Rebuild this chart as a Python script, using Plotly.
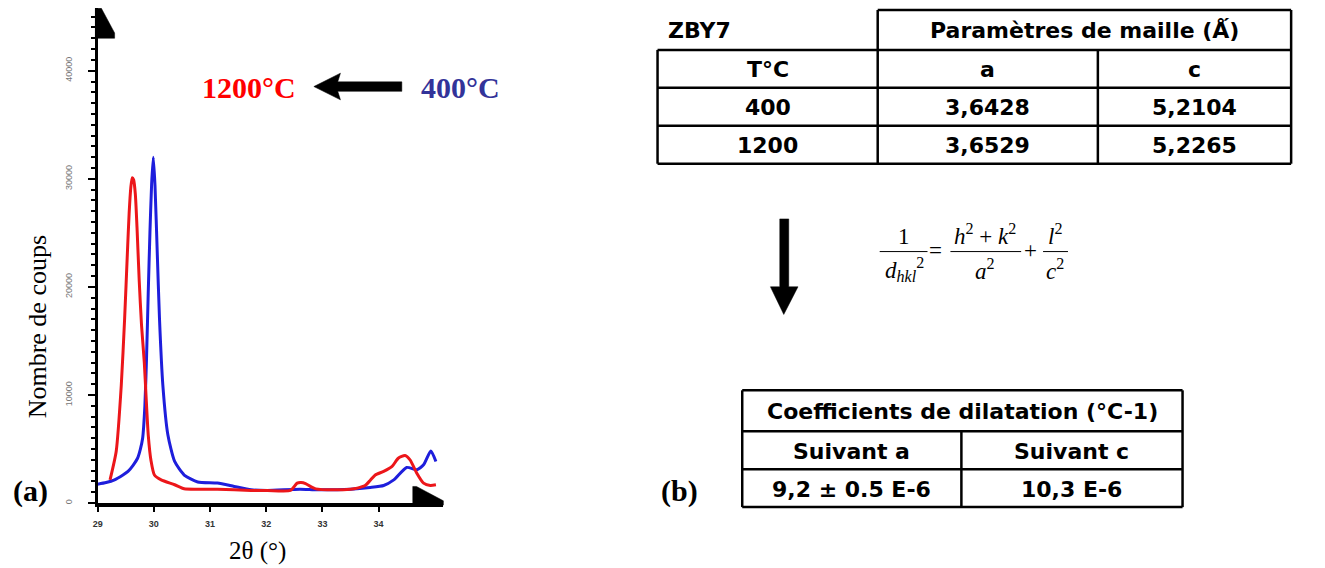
import plotly.graph_objects as go

# page is 1325x568; the HTML body keeps a default 8px margin
PAGE_W, PAGE_H = 1325, 568
OFF = 8
W, H = PAGE_W - OFF, PAGE_H - OFF

# ---------------- data ----------------
two_theta_1200 = [29.22, 29.33, 29.42, 29.48, 29.53, 29.56, 29.59, 29.615, 29.64, 29.67,
                  29.70, 29.74, 29.78, 29.83, 29.86, 29.90, 29.95, 30.01, 30.13, 30.37,
                  30.54, 30.90, 31.13, 31.73, 32.02, 32.43, 32.55, 32.62, 32.70, 32.80,
                  32.88, 33.20, 33.50, 33.62, 33.76, 33.85, 33.94, 34.09, 34.24, 34.35,
                  34.47, 34.56, 34.68, 34.80, 34.92, 35.02]
counts_1200 = [2150, 4800, 10900, 17100, 23300, 26800, 29200, 30100, 29900, 28600,
               25500, 20500, 16500, 13000, 10000, 6300, 3900, 2600, 2150, 1700,
               1320, 1290, 1290, 1170, 1170, 1170, 1850, 1900, 1800, 1500,
               1320, 1230, 1290, 1390, 1630, 2100, 2610, 2930, 3390, 4150,
               4400, 4000, 2770, 1850, 1630, 1690]

two_theta_400 = [29.00, 29.15, 29.30, 29.45, 29.54, 29.63, 29.71, 29.76, 29.80, 29.84,
                 29.87, 29.90, 29.93, 29.96, 29.99, 30.02, 30.06, 30.10, 30.16, 30.25,
                 30.37, 30.54, 30.78, 31.13, 31.43, 31.73, 32.02, 32.60, 32.91, 33.50,
                 33.85, 34.09, 34.27, 34.50, 34.68, 34.80, 34.93, 35.02]
counts_400 = [1750, 1900, 2150, 2600, 2930, 3500, 4150, 5000, 6000, 9000,
              13500, 19500, 25000, 29500, 32000, 29400, 23200, 17100, 10900, 6300,
              3850, 2600, 1950, 1850, 1540, 1230, 1170, 1290, 1230, 1290,
              1450, 1630, 2150, 3300, 3080, 3540, 4830, 3850]

y_tick_values = [0, 10000, 20000, 30000, 40000]
x_tick_values = [29, 30, 31, 32, 33, 34]

label_hot = "1200°C"
label_cold = "400°C"

table1_corner = "ZBY7"
table1_header = "Paramètres de maille (Ǻ)"
table1_columns = ["T°C", "a", "c"]
table1_rows = [["400", "3,6428", "5,2104"],
               ["1200", "3,6529", "5,2265"]]

table2_header = "Coefficients de dilatation (°C-1)"
table2_columns = ["Suivant a", "Suivant c"]
table2_values = ["9,2 ± 0.5 E-6", "10,3 E-6"]

# ---------------- helpers (page pixel -> paper) ----------------
def X(px):
    return (px - OFF) / W

def Y(py):
    return 1 - (py - OFF) / H

RED = "rgb(236,22,26)"
BLUE = "rgb(30,30,220)"
SANS = "DejaVu Sans"
SERIF = "Liberation Serif"
TFS = 22

fig = go.Figure()
fig.add_trace(go.Scatter(x=two_theta_400, y=counts_400, mode="lines",
                         line=dict(color=BLUE, width=3, shape="spline", smoothing=0.6),
                         hoverinfo="skip", showlegend=False))
fig.add_trace(go.Scatter(x=two_theta_1200, y=counts_1200, mode="lines",
                         line=dict(color=RED, width=3, shape="spline", smoothing=0.6),
                         hoverinfo="skip", showlegend=False))

# axes geometry: 29 deg at px 93, 56.4 px/deg ; 0 counts at py 504, 10.83 px / 1000
x_left_px, x_right_px = 93, 440
y_bottom_px, y_top_px = 504, 8
x_range = [29 + (x_left_px - 93) / 56.4, 29 + (x_right_px - 93) / 56.4]
y_range = [0, (y_bottom_px - y_top_px) / 10.83 * 1000]

fig.update_layout(
    width=W, height=H, autosize=False,
    margin=dict(l=0, r=0, t=0, b=0),
    paper_bgcolor="white", plot_bgcolor="white",
    xaxis=dict(domain=[X(x_left_px), X(x_right_px)], range=x_range,
               showgrid=False, zeroline=False,
               showline=True, linecolor="black", linewidth=4,
               ticks="outside", ticklen=5, tickwidth=1.5, tickcolor="black",
               tickvals=x_tick_values, ticktext=[str(v) for v in x_tick_values],
               tickfont=dict(family="Liberation Sans", size=9, color="#333", weight="bold"),
               ticklabelstandoff=4),
    yaxis=dict(domain=[Y(y_bottom_px), Y(y_top_px)], range=y_range,
               showgrid=False, zeroline=False,
               showline=True, linecolor="black", linewidth=3,
               ticks="outside", ticklen=7, tickwidth=2, tickcolor="black",
               tickvals=y_tick_values, ticktext=[str(v) for v in y_tick_values],
               tickangle=-90,
               tickfont=dict(family="Liberation Sans", size=9, color="#777"),
               ticklabelstandoff=12,
               minor=dict(dtick=1000, ticks="outside", ticklen=4, tickwidth=2,
                          tickcolor="black", showgrid=False)),
)

shapes = []
annotations = []

def poly(points, color="black"):
    path = "M " + " L ".join(f"{X(px):.5f},{Y(py):.5f}" for px, py in points) + " Z"
    shapes.append(dict(type="path", xref="paper", yref="paper", path=path,
                       fillcolor=color, line=dict(color=color, width=0.5)))

def hline(x0, x1, y, w=2.5):
    shapes.append(dict(type="line", xref="paper", yref="paper",
                       x0=X(x0), x1=X(x1), y0=Y(y), y1=Y(y),
                       line=dict(color="black", width=w)))

def vline(x, y0, y1, w=2.5):
    shapes.append(dict(type="line", xref="paper", yref="paper",
                       x0=X(x), x1=X(x), y0=Y(y0), y1=Y(y1),
                       line=dict(color="black", width=w)))

def text(s, x, y, size, family=SANS, color="black", bold=False, italic=False,
         xanchor="center", angle=0):
    annotations.append(dict(text=s, x=X(x), y=Y(y), xref="paper", yref="paper",
                            xanchor=xanchor, yanchor="middle", showarrow=False,
                            textangle=angle,
                            font=dict(family=family, size=size, color=color,
                                      weight="bold" if bold else "normal",
                                      style="italic" if italic else "normal")))

# axis end markers (scroll flags)
poly([(90.7, 8.3), (96.7, 8.3), (110, 33), (110, 38.3), (90.7, 38.3)])
poly([(409.3, 487.3), (413, 487.3), (440, 501.7), (440, 506), (409.3, 506)])

# left panel labels
text("Nombre de coups", 33, 327, 26, family=SERIF, angle=-90)
text("2θ (°)", 253, 552, 25, family=SERIF)
text("(a)", 26, 492, 30, family=SERIF, bold=True)
text(label_hot, 245, 88, 30, family=SERIF, color="rgb(255,0,0)", bold=True)
text(label_cold, 457, 88, 30, family=SERIF, color="rgb(51,51,153)", bold=True)
poly([(310, 86.7), (336.7, 73.3), (334, 82), (398.3, 82), (398.3, 91.5), (334, 91.5), (336.7, 100)])

# ---------------- table 1 ----------------
t1_left, t1_mid, t1_split, t1_right = 655, 876, 1097, 1291
t1_rows_y = [10, 50, 88, 126, 164]
hline(t1_mid, t1_right, t1_rows_y[0])
for yy in t1_rows_y[1:]:
    hline(t1_left, t1_right, yy)
vline(t1_left, t1_rows_y[1], t1_rows_y[-1])
vline(t1_mid, t1_rows_y[0], t1_rows_y[-1])
vline(t1_split, t1_rows_y[1], t1_rows_y[-1])
vline(t1_right, t1_rows_y[0], t1_rows_y[-1])

col_centers = [(t1_left + t1_mid) / 2, (t1_mid + t1_split) / 2, (t1_split + t1_right) / 2]
text(table1_corner, 663, 31, TFS, bold=True, xanchor="left")
text(table1_header, (t1_mid + t1_right) / 2, 31, TFS, bold=True)
for cx, s in zip(col_centers, table1_columns):
    text(s, cx, 70, TFS, bold=True)
for r, row in enumerate(table1_rows):
    cy = (t1_rows_y[r + 2] + t1_rows_y[r + 3]) / 2 + 1
    for cx, s in zip(col_centers, row):
        text(s, cx, cy, TFS, bold=True)

# ---------------- arrow + formula ----------------
poly([(777.7, 219.3), (786.7, 219.3), (786.7, 287.3), (796, 287.3), (781.7, 315),
      (768.3, 287.3), (777.7, 287.3)])

FS = 23
text("1", 902, 237, FS, family=SERIF)
hline(878, 926, 252, w=1)
text("<i>d</i><sub><i>hkl</i></sub><sup>2</sup>", 903, 270, FS, family=SERIF)
text("=", 934, 251, FS, family=SERIF)
text("<i>h</i><sup>2</sup> + <i>k</i><sup>2</sup>", 984, 235, FS, family=SERIF)
hline(949, 1020, 252, w=1)
text("<i>a</i><sup>2</sup>", 984, 270, FS, family=SERIF)
text("+", 1029, 251, FS, family=SERIF)
text("<i>l</i><sup>2</sup>", 1054, 235, FS, family=SERIF)
hline(1042, 1067, 252, w=1)
text("<i>c</i><sup>2</sup>", 1054, 270, FS, family=SERIF)

# ---------------- table 2 ----------------
t2_left, t2_split, t2_right = 740, 960, 1182
t2_rows_y = [391, 432, 470, 508]
for yy in t2_rows_y:
    hline(t2_left, t2_right, yy)
vline(t2_left, t2_rows_y[0], t2_rows_y[-1])
vline(t2_right, t2_rows_y[0], t2_rows_y[-1])
vline(t2_split, t2_rows_y[1], t2_rows_y[-1])
text(table2_header, (t2_left + t2_right) / 2, 412, TFS, bold=True)
c2 = [(t2_left + t2_split) / 2, (t2_split + t2_right) / 2]
for cx, s in zip(c2, table2_columns):
    text(s, cx, 452, TFS, bold=True)
for cx, s in zip(c2, table2_values):
    text(s, cx, 490, TFS, bold=True)
text("(b)", 677, 492, 30, family=SERIF, bold=True)

fig.update_layout(shapes=shapes, annotations=annotations)
fig.write_html("out.html")
